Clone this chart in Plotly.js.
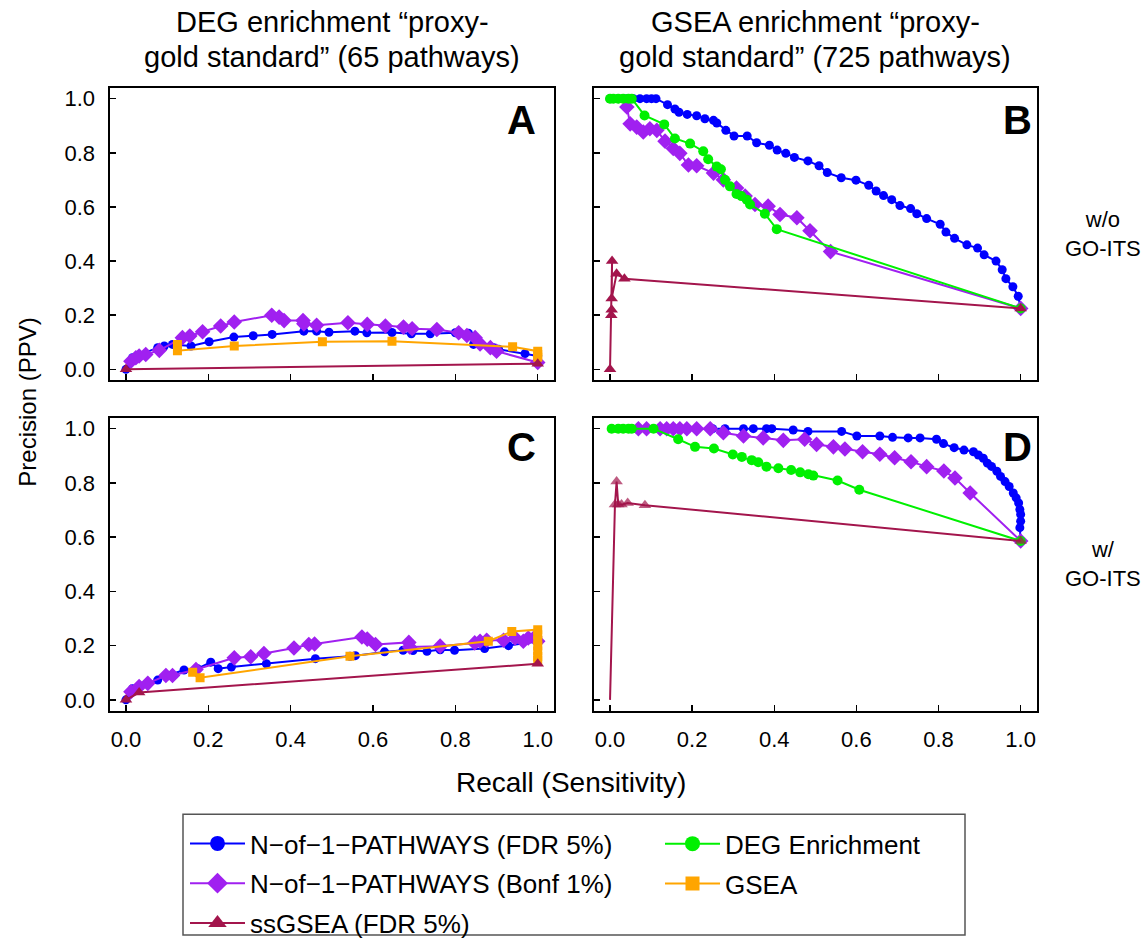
<!DOCTYPE html>
<html><head><meta charset="utf-8">
<script src="https://cdn.plot.ly/plotly-3.0.1.min.js"></script>
<style>html,body{margin:0;padding:0;background:#fff}</style>
</head><body><div id="chart" style="width:1147px;height:947px"></div>
<script>
// ---------- Data ----------
// Panel A: DEG enrichment gold standard, w/o GO-ITS
var fdrA_x = [0, 0.016, 0.077, 0.093, 0.113, 0.158, 0.202, 0.262, 0.309, 0.355, 0.432, 0.463, 0.493, 0.556, 0.585, 0.646, 0.693, 0.739, 0.8, 0.832, 0.844, 0.893, 0.905, 0.969, 1.0];
var fdrA_y = [0, 0.043, 0.08, 0.086, 0.092, 0.086, 0.102, 0.119, 0.124, 0.129, 0.141, 0.141, 0.137, 0.141, 0.135, 0.136, 0.131, 0.131, 0.135, 0.133, 0.092, 0.08, 0.074, 0.058, 0.049];
var bonfA_x = [0.012, 0.024, 0.032, 0.048, 0.081, 0.137, 0.155, 0.186, 0.23, 0.263, 0.354, 0.372, 0.384, 0.43, 0.432, 0.463, 0.539, 0.586, 0.63, 0.674, 0.695, 0.755, 0.808, 0.828, 0.848, 0.86, 0.885, 0.9, 1.0];
var bonfA_y = [0.03, 0.043, 0.049, 0.055, 0.07, 0.117, 0.123, 0.139, 0.16, 0.175, 0.2, 0.193, 0.18, 0.18, 0.168, 0.163, 0.172, 0.166, 0.16, 0.156, 0.15, 0.147, 0.135, 0.125, 0.117, 0.094, 0.08, 0.067, 0.025];
var gseaA_x = [0.125, 0.125, 0.263, 0.477, 0.646, 0.939, 1.0, 1.0, 1.0];
var gseaA_y = [0.092, 0.069, 0.086, 0.102, 0.104, 0.083, 0.067, 0.055, 0.045];
var ssA_x = [0, 1.0];
var ssA_y = [0, 0.021];

// Panel B: GSEA gold standard, w/o GO-ITS
var fdrB_x = [0.0, 0.02, 0.04, 0.057, 0.073, 0.089, 0.101, 0.112, 0.14, 0.158, 0.168, 0.188, 0.211, 0.231, 0.252, 0.26, 0.282, 0.302, 0.334, 0.357, 0.388, 0.407, 0.428, 0.449, 0.482, 0.509, 0.529, 0.563, 0.599, 0.63, 0.648, 0.666, 0.686, 0.706, 0.732, 0.747, 0.771, 0.804, 0.818, 0.839, 0.869, 0.895, 0.911, 0.94, 0.955, 0.964, 0.981, 0.994, 1.0];
var fdrB_y = [1, 1, 1, 1, 1, 1, 1, 1, 0.978, 0.962, 0.95, 0.942, 0.937, 0.926, 0.92, 0.91, 0.883, 0.862, 0.862, 0.837, 0.828, 0.81, 0.798, 0.783, 0.77, 0.752, 0.727, 0.708, 0.699, 0.68, 0.659, 0.642, 0.627, 0.605, 0.594, 0.575, 0.557, 0.536, 0.507, 0.484, 0.46, 0.448, 0.423, 0.4, 0.368, 0.335, 0.305, 0.27, 0.225];
var bonfB_x = [0.041, 0.049, 0.065, 0.081, 0.097, 0.114, 0.134, 0.154, 0.17, 0.191, 0.211, 0.252, 0.276, 0.308, 0.329, 0.353, 0.385, 0.414, 0.455, 0.487, 0.537, 1.0];
var bonfB_y = [0.969, 0.907, 0.895, 0.877, 0.889, 0.883, 0.843, 0.816, 0.798, 0.755, 0.752, 0.725, 0.7, 0.67, 0.64, 0.609, 0.603, 0.572, 0.56, 0.512, 0.435, 0.225];
var degB_x = [0.0, 0.008, 0.02, 0.032, 0.045, 0.053, 0.084, 0.132, 0.158, 0.195, 0.227, 0.239, 0.26, 0.27, 0.28, 0.292, 0.308, 0.32, 0.333, 0.341, 0.377, 0.406, 1.0];
var degB_y = [1, 1, 1, 1, 1, 1, 0.938, 0.905, 0.853, 0.834, 0.806, 0.776, 0.749, 0.739, 0.7, 0.676, 0.648, 0.64, 0.627, 0.609, 0.575, 0.518, 0.225];
var ssB_x = [0, 0.003, 0.004, 0.005, 0.004, 0.016, 0.035, 1.0];
var ssB_y = [0, 0.2, 0.22, 0.4, 0.262, 0.353, 0.335, 0.225];

// Panel C: DEG enrichment gold standard, w/ GO-ITS
var fdrC_x = [0, 0.016, 0.077, 0.101, 0.141, 0.174, 0.206, 0.224, 0.256, 0.341, 0.46, 0.544, 0.557, 0.628, 0.673, 0.697, 0.731, 0.763, 0.798, 0.871, 0.929, 1.0];
var fdrC_y = [0, 0.041, 0.073, 0.09, 0.11, 0.115, 0.139, 0.115, 0.121, 0.133, 0.152, 0.161, 0.163, 0.177, 0.183, 0.182, 0.179, 0.185, 0.183, 0.189, 0.2, 0.215];
var bonfC_x = [0.012, 0.032, 0.053, 0.097, 0.113, 0.17, 0.263, 0.303, 0.335, 0.408, 0.444, 0.458, 0.573, 0.586, 0.606, 0.687, 0.689, 0.763, 0.847, 0.86, 0.876, 0.917, 0.945, 0.965, 0.977, 0.993, 1.0];
var bonfC_y = [0.03, 0.049, 0.061, 0.09, 0.09, 0.112, 0.155, 0.159, 0.171, 0.191, 0.204, 0.206, 0.232, 0.224, 0.204, 0.212, 0.195, 0.198, 0.21, 0.216, 0.22, 0.22, 0.228, 0.216, 0.228, 0.232, 0.216];
var gseaC_x = [0.162, 0.18, 0.544, 0.88, 0.937, 1.0, 1.0, 1.0, 1.0, 1.0, 1.0, 1.0];
var gseaC_y = [0.102, 0.082, 0.161, 0.216, 0.252, 0.259, 0.24, 0.22, 0.2, 0.18, 0.16, 0.145];
var ssC_x = [0, 0.032, 1.0];
var ssC_y = [0, 0.027, 0.133];

// Panel D: GSEA gold standard, w/ GO-ITS
var fdrD_x = [0.25, 0.28, 0.325, 0.349, 0.381, 0.394, 0.446, 0.482, 0.564, 0.601, 0.657, 0.688, 0.726, 0.755, 0.795, 0.812, 0.838, 0.862, 0.885, 0.897, 0.909, 0.919, 0.929, 0.942, 0.951, 0.962, 0.972, 0.982, 0.989, 0.995, 0.998, 1.0, 1.0, 0.998, 1.0];
var fdrD_y = [1, 1, 1, 1, 1, 1, 0.995, 0.99, 0.99, 0.973, 0.973, 0.968, 0.966, 0.966, 0.961, 0.945, 0.93, 0.921, 0.915, 0.903, 0.891, 0.873, 0.861, 0.843, 0.824, 0.805, 0.787, 0.763, 0.745, 0.726, 0.702, 0.684, 0.659, 0.635, 0.586];
var bonfD_x = [0.069, 0.089, 0.122, 0.138, 0.154, 0.17, 0.187, 0.211, 0.244, 0.276, 0.325, 0.373, 0.422, 0.474, 0.503, 0.544, 0.572, 0.615, 0.657, 0.693, 0.733, 0.771, 0.813, 0.84, 0.877, 1.0];
var bonfD_y = [1, 1, 1, 1, 1, 1, 1, 1, 1, 0.985, 0.973, 0.966, 0.957, 0.961, 0.942, 0.933, 0.925, 0.915, 0.906, 0.893, 0.878, 0.86, 0.844, 0.818, 0.763, 0.586];
var degD_x = [0.004, 0.02, 0.032, 0.045, 0.053, 0.106, 0.166, 0.207, 0.253, 0.299, 0.321, 0.345, 0.361, 0.381, 0.41, 0.441, 0.463, 0.483, 0.495, 0.554, 0.607, 1.0];
var degD_y = [1, 1, 1, 1, 1, 1, 0.961, 0.933, 0.927, 0.905, 0.896, 0.884, 0.876, 0.86, 0.854, 0.848, 0.839, 0.832, 0.827, 0.809, 0.775, 0.586];
var ssD_x = [0, 0.012, 0.016, 0.02, 0.028, 0.043, 0.085, 1.0];
var ssD_y = [0, 0.72, 0.805, 0.72, 0.72, 0.726, 0.718, 0.586];

// Labels
var seriesNames = ["N\u2212of\u22121\u2212PATHWAYS (FDR 5%)", "N\u2212of\u22121\u2212PATHWAYS (Bonf 1%)", "ssGSEA (FDR 5%)", "DEG Enrichment", "GSEA"];
var columnTitles = [["DEG enrichment \u201cproxy-", "gold standard\u201d (65 pathways)"], ["GSEA enrichment \u201cproxy-", "gold standard\u201d (725 pathways)"]];
var rowLabels = ["w/o<br>GO-ITS", "w/<br>GO-ITS"];
var panelLetters = ["A", "B", "C", "D"];
var tickVals = [0, 0.2, 0.4, 0.6, 0.8, 1.0];
var tickText = ["0.0", "0.2", "0.4", "0.6", "0.8", "1.0"];
var xTitle = "Recall (Sensitivity)";
var yTitle = "Precision (PPV)";

// ---------- Styles ----------
var FONT = "Liberation Sans, Arial, Helvetica, sans-serif";
var ST = {
  fdr:  {color: "#0000FF", symbol: "circle",       size: 9,  lw: 2},
  bonf: {color: "#A020F0", symbol: "diamond",      size: 12, lw: 2},
  ss:   {color: "#A3154C", symbol: "triangle-up",  size: 11, lw: 2},
  deg:  {color: "#00F000", symbol: "circle",       size: 10, lw: 2},
  gsea: {color: "#FFA500", symbol: "square",       size: 9,  lw: 2}
};

function tr(x, y, key, xa, ya, sizes) {
  var s = ST[key];
  return {
    x: x, y: y, xaxis: xa, yaxis: ya, type: "scatter", mode: "lines+markers",
    line: {color: s.color, width: s.lw},
    marker: {symbol: s.symbol, size: sizes || s.size, color: s.color, line: {width: 0}},
    showlegend: false, hoverinfo: "skip"
  };
}

var ssDsizes = ssD_x.map(function(v, i) { return i === 0 ? 0 : ST.ss.size; });

var data = [
  tr(fdrA_x, fdrA_y, "fdr", "x", "y"),
  tr(bonfA_x, bonfA_y, "bonf", "x", "y"),
  tr(gseaA_x, gseaA_y, "gsea", "x", "y"),
  tr(ssA_x, ssA_y, "ss", "x", "y"),

  tr(fdrB_x, fdrB_y, "fdr", "x2", "y2"),
  tr(bonfB_x, bonfB_y, "bonf", "x2", "y2"),
  tr(degB_x, degB_y, "deg", "x2", "y2"),
  tr(ssB_x, ssB_y, "ss", "x2", "y2"),

  tr(fdrC_x, fdrC_y, "fdr", "x3", "y3"),
  tr(bonfC_x, bonfC_y, "bonf", "x3", "y3"),
  tr(gseaC_x, gseaC_y, "gsea", "x3", "y3"),
  tr(ssC_x, ssC_y, "ss", "x3", "y3"),

  tr(fdrD_x, fdrD_y, "fdr", "x4", "y4"),
  tr(bonfD_x, bonfD_y, "bonf", "x4", "y4"),
  tr(degD_x, degD_y, "deg", "x4", "y4"),
  tr(ssD_x, ssD_y, "ss", "x4", "y4", ssDsizes)
];

// Legend entries
var legKeys = [["fdr", "legend", 0, 15], ["bonf", "legend", 1, 17], ["ss", "legend", 2, 16], ["deg", "legend2", 3, 15], ["gsea", "legend2", 4, 14]];
legKeys.forEach(function(k) {
  var s = ST[k[0]];
  data.push({
    x: [null], y: [null], xaxis: "x", yaxis: "y", type: "scatter", mode: "lines+markers",
    name: seriesNames[k[2]], legend: k[1], legendgroup: k[0],
    line: {color: s.color, width: s.lw},
    marker: {symbol: s.symbol, size: k[3], color: s.color, line: {width: 0}},
    showlegend: true, hoverinfo: "skip"
  });
});

// ---------- Layout ----------
var W = 1147, H = 947;
var colX = [[109.5 / W, 554.2 / W], [593.6 / W, 1037.1 / W]];
var rowY = [[1 - 384.2 / H, 1 - 88.8 / H], [1 - 718.3 / H, 1 - 422.3 / H]];

function ax(domain, anchor, labels) {
  return {
    domain: domain, anchor: anchor, range: [-0.04, 1.04], autorange: false,
    showgrid: false, zeroline: false, showline: true, linecolor: "#000", linewidth: 2, mirror: true,
    ticks: "inside", ticklen: 6, tickwidth: 1.5, tickcolor: "#000",
    tickvals: tickVals, ticktext: tickText, showticklabels: labels,
    tickfont: {family: FONT, size: 22, color: "#000"}, ticklabelstandoff: 8,
    fixedrange: true
  };
}

var legFont = {family: FONT, size: 26, color: "#000"};
var layout = {
  width: W, height: H, margin: {l: 0, r: 0, t: 0, b: 0},
  paper_bgcolor: "#fff", plot_bgcolor: "#fff",
  font: {family: FONT, color: "#000"},
  xaxis:  ax(colX[0], "y",  false), yaxis:  ax(rowY[0], "x",  true),
  xaxis2: ax(colX[1], "y2", false), yaxis2: ax(rowY[0], "x2", false),
  xaxis3: ax(colX[0], "y3", true),  yaxis3: ax(rowY[1], "x3", true),
  xaxis4: ax(colX[1], "y4", true),  yaxis4: ax(rowY[1], "x4", false),
  legend: {x: 185 / W, y: 1 - 829 / H, xanchor: "left", yanchor: "top", bgcolor: "rgba(0,0,0,0)", borderwidth: 0,
           font: legFont, itemwidth: 55, tracegroupgap: 3, traceorder: "grouped"},
  legend2: {x: 660 / W, y: 1 - 829 / H, xanchor: "left", yanchor: "top", bgcolor: "rgba(0,0,0,0)", borderwidth: 0,
           font: legFont, itemwidth: 55, tracegroupgap: 3, traceorder: "grouped"},
  shapes: [{type: "rect", xref: "paper", yref: "paper", x0: 183 / W, x1: 965 / W, y0: 1 - 945 / H, y1: 1 - 823 / H,
            line: {color: "#555", width: 1.5}, fillcolor: "rgba(0,0,0,0)", layer: "below"}],
  annotations: []
};

function note(text, px, py, size, extra) {
  var a = {text: text, x: px / W, y: 1 - py / H, xref: "paper", yref: "paper", showarrow: false,
           font: {family: FONT, size: size, color: "#000"}, xanchor: "center", yanchor: "middle"};
  for (var k in extra) a[k] = extra[k];
  layout.annotations.push(a);
}
note(columnTitles[0][0], 332, 22, 29);
note(columnTitles[0][1], 332, 58, 29);
note(columnTitles[1][0], 815, 22, 29);
note(columnTitles[1][1], 815, 58, 29);
note(rowLabels[0], 1103, 236, 22);
note(rowLabels[1], 1103, 570, 22);
note(yTitle, 28, 407, 24, {textangle: -90});
note(xTitle, 571, 791, 28);
note("<b>" + panelLetters[0] + "</b>", 521, 121, 40);
note("<b>" + panelLetters[1] + "</b>", 1017, 121, 40);
note("<b>" + panelLetters[2] + "</b>", 521, 452, 40);
note("<b>" + panelLetters[3] + "</b>", 1017, 452, 40);

Plotly.newPlot("chart", data, layout, {staticPlot: true, displayModeBar: false});
</script></body></html>
